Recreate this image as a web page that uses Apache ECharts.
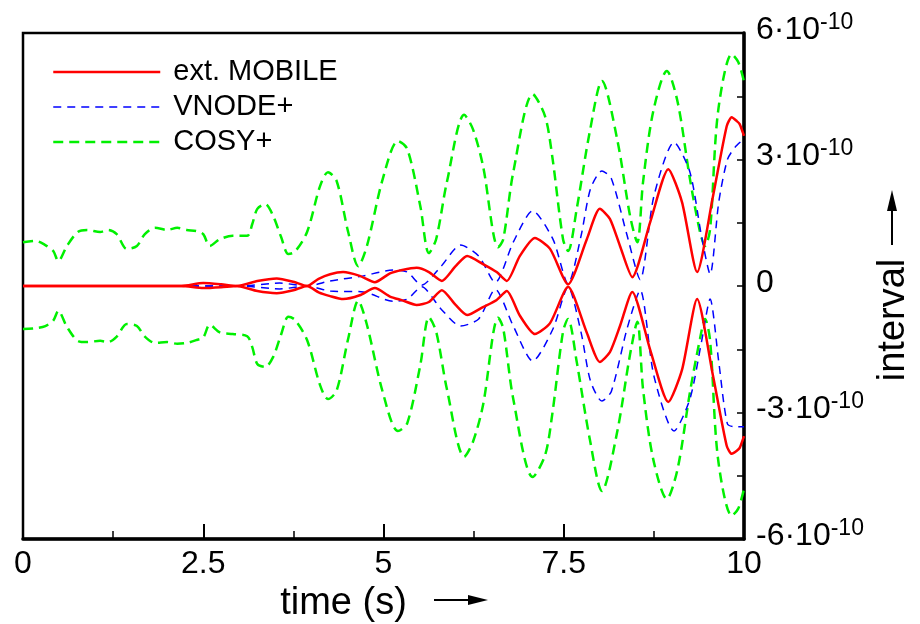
<!DOCTYPE html>
<html>
<head>
<meta charset="utf-8">
<script src="https://cdn.jsdelivr.net/npm/echarts@6/dist/echarts.min.js"></script>
<style>
html,body{margin:0;padding:0;background:#fff;}
#chart{width:920px;height:624px;}
</style>
</head>
<body>
<div id="chart"></div>
<script>
// ---- data (values in units of 1e-10) ----
const seriesNames = ['ext. MOBILE', 'VNODE+', 'COSY+'];
const xTickLabels = ['0', '2.5', '5', '7.5', '10'];
const yTickLabels = {'6': ['6·10', '-10'], '3': ['3·10', '-10'], '0': ['0', ''], '-3': ['-3·10', '-10'], '-6': ['-6·10', '-10']};

const mobileTime  = [0, 2.2, 2.5, 2.75, 2.97, 3.25, 3.52, 3.75, 3.94, 4.1, 4.26, 4.44, 4.67, 4.88, 5.09, 5.26, 5.46, 5.63, 5.81, 6.0, 6.16, 6.38, 6.57, 6.71, 6.89, 7.10, 7.31, 7.56, 7.82, 8.0, 8.14, 8.28, 8.45, 8.70, 8.95, 9.14, 9.35, 9.57, 9.76, 9.83, 9.90, 9.94, 10.0];
const mobileUpper = [0, 0, 0.07, 0.04, 0, 0.12, 0.18, 0.1, 0, 0.17, 0.28, 0.33, 0.24, 0.09, 0.30, 0.38, 0.43, 0.33, 0.12, 0.47, 0.71, 0.52, 0.33, 0.12, 0.71, 1.14, 0.88, 0.04, 1.11, 1.83, 1.59, 0.95, 0.21, 1.52, 2.77, 1.99, 0.33, 2.13, 3.79, 4.0, 3.91, 3.84, 3.56];
const mobileLower = [0, 0, -0.05, -0.03, 0, -0.12, -0.17, -0.1, 0, -0.15, -0.24, -0.31, -0.22, -0.05, -0.25, -0.34, -0.45, -0.38, -0.10, -0.45, -0.69, -0.50, -0.33, -0.12, -0.70, -1.14, -0.88, -0.02, -1.11, -1.80, -1.57, -0.95, -0.14, -1.52, -2.75, -1.99, -0.31, -2.13, -3.79, -3.98, -3.91, -3.84, -3.56];

const vnodeTime  = [0, 3.0, 3.56, 3.94, 4.26, 4.72, 5.13, 5.33, 5.53, 5.80, 6.07, 6.32, 6.55, 6.80, 7.07, 7.35, 7.56, 7.74, 7.87, 8.03, 8.16, 8.38, 8.56, 8.75, 9.03, 9.25, 9.41, 9.53, 9.65, 9.77, 9.88, 10.0];
const vnodeUpper = [0, 0, 0.07, 0, 0.12, 0.24, 0.38, 0.33, 0.02, 0.47, 0.97, 0.71, 0.08, 1.04, 1.78, 1.11, 0.05, 1.19, 2.3, 2.73, 2.55, 1.19, 0.15, 2.13, 3.41, 2.70, 1.19, 0.28, 1.99, 3.0, 3.3, 3.49];
const vnodeLower = [0, 0, -0.07, 0, -0.12, -0.14, -0.36, -0.31, -0.02, -0.55, -0.95, -0.78, -0.08, -0.95, -1.78, -1.02, -0.02, -1.1, -2.25, -2.73, -2.5, -1.0, -0.1, -2.13, -3.44, -2.68, -1.33, -0.31, -1.8, -3.27, -3.34, -3.34];

const cosyTime  = [0, 0.17, 0.31, 0.42, 0.49, 0.61, 0.76, 0.89, 1.07, 1.18, 1.30, 1.44, 1.58, 1.69, 1.83, 2.0, 2.14, 2.27, 2.41, 2.50, 2.59, 2.73, 2.91, 3.11, 3.18, 3.25, 3.36, 3.47, 3.58, 3.68, 3.77, 3.94, 4.12, 4.23, 4.35, 4.51, 4.65, 4.77, 4.99, 5.20, 5.33, 5.51, 5.63, 5.73, 5.88, 6.12, 6.24, 6.38, 6.59, 6.66, 6.80, 7.07, 7.24, 7.34, 7.49, 7.56, 7.68, 7.86, 8.03, 8.24, 8.42, 8.52, 8.60, 8.74, 8.93, 9.08, 9.25, 9.39, 9.46, 9.53, 9.64, 9.83, 9.92, 10.0];
const cosyUpper = [1.04, 1.07, 0.97, 0.83, 0.59, 0.95, 1.28, 1.33, 1.28, 1.33, 1.23, 0.88, 0.95, 1.23, 1.38, 1.33, 1.38, 1.33, 1.30, 1.23, 0.95, 1.11, 1.19, 1.19, 1.47, 1.83, 1.94, 1.66, 1.16, 0.76, 0.81, 1.28, 2.37, 2.70, 2.49, 1.28, 0.47, 0.95, 2.54, 3.44, 3.25, 1.90, 0.78, 1.11, 2.47, 4.06, 3.72, 2.85, 0.92, 1.10, 2.70, 4.55, 4.03, 3.08, 1.11, 0.83, 1.83, 3.65, 4.86, 3.49, 1.66, 1.04, 2.47, 4.13, 5.10, 4.36, 2.54, 1.28, 0.95, 1.35, 4.13, 5.50, 5.31, 4.85];
const cosyLower = [-1.02, -1.0, -0.95, -0.82, -0.59, -0.97, -1.30, -1.33, -1.30, -1.33, -1.20, -0.90, -0.95, -1.20, -1.35, -1.33, -1.37, -1.35, -1.28, -1.22, -0.92, -1.10, -1.14, -1.19, -1.45, -1.85, -1.92, -1.68, -1.15, -0.73, -0.80, -1.28, -2.35, -2.68, -2.48, -1.25, -0.35, -0.92, -2.52, -3.44, -3.25, -1.88, -0.74, -1.08, -2.45, -4.05, -3.70, -2.83, -0.75, -1.0, -2.68, -4.53, -4.02, -3.05, -1.08, -0.78, -1.80, -3.62, -4.86, -3.47, -1.62, -0.85, -2.45, -4.10, -5.05, -4.33, -2.52, -1.25, -0.78, -1.30, -4.10, -5.45, -5.28, -4.81];

// ---- chart ----
const FONT = "'Liberation Sans', Arial, Helvetica, sans-serif";
const chart = echarts.init(document.getElementById('chart'), null, {renderer: 'canvas'});

function mk(name, t, v, color, width, dash, z, smooth) {
  return {
    name: name, type: 'line', data: t.map((x, i) => [x, v[i]]),
    symbol: 'none', smooth: smooth, z: z,
    lineStyle: {color: color, width: width, type: dash},
    itemStyle: {color: color},
    emphasis: {disabled: true}
  };
}

const series = [
  mk(seriesNames[2], cosyTime, cosyUpper, '#00f000', 2.5, [10, 6], 2, 0.3),
  mk(seriesNames[2], cosyTime, cosyLower, '#00f000', 2.5, [10, 6], 2, 0.3),
  mk(seriesNames[1], vnodeTime, vnodeUpper, '#0000ff', 1.5, [8, 6], 3, 0.25),
  mk(seriesNames[1], vnodeTime, vnodeLower, '#0000ff', 1.5, [8, 6], 3, 0.25),
  mk(seriesNames[0], mobileTime, mobileUpper, '#ff0000', 2.5, 'solid', 4, 0.22),
  mk(seriesNames[0], mobileTime, mobileLower, '#ff0000', 2.5, 'solid', 4, 0.22)
];

const option = {
  animation: false,
  backgroundColor: '#ffffff',
  grid: {left: 23, right: 176, top: 33, bottom: 85, containLabel: false, outerBoundsMode: 'none',
         show: true, borderColor: '#000', borderWidth: 2.5, backgroundColor: 'transparent'},
  legend: {
    data: seriesNames,
    orient: 'vertical', left: 47, top: 52,
    itemWidth: 107, itemHeight: 14, itemGap: 5,
    selectedMode: false,
    itemStyle: {opacity: 0},
    lineStyle: {width: 'inherit', type: 'inherit'},
    textStyle: {fontFamily: FONT, fontSize: 29, color: '#000', lineHeight: 30, padding: [0, 0, 0, 8]}
  },
  xAxis: {
    type: 'value', min: 0, max: 10, interval: 2.5,
    name: 'time (s)', nameLocation: 'middle', nameGap: 39,
    nameTextStyle: {fontFamily: FONT, fontSize: 38, color: '#000', padding: [0, 80, 0, 0]},
    axisLine: {show: true, onZero: false, lineStyle: {color: '#000', width: 3.5}},
    axisTick: {show: true, inside: true, length: 15, lineStyle: {color: '#000', width: 2}},
    minorTick: {show: true, splitNumber: 2, length: 8, lineStyle: {color: '#000', width: 1.5}},
    splitLine: {show: false},
    axisLabel: {
      margin: 9, fontFamily: FONT, fontSize: 32, color: '#000',
      formatter: function (v) { const i = Math.round(v / 2.5); return xTickLabels[i] !== undefined ? xTickLabels[i] : ''; }
    }
  },
  yAxis: {
    type: 'value', position: 'right', min: -6, max: 6, interval: 1.5,
    name: 'interval', nameLocation: 'middle', nameGap: 128, nameRotate: 90,
    nameTextStyle: {fontFamily: FONT, fontSize: 38, color: '#000', padding: [0, 68, 0, 0]},
    axisLine: {show: true, onZero: false, lineStyle: {color: '#000', width: 3.5}},
    axisTick: {show: true, inside: true, length: 7, lineStyle: {color: '#000', width: 1.5}},
    splitLine: {show: false},
    axisLabel: {
      margin: 12, showMinLabel: true, showMaxLabel: true, padding: [0, 0, 8, 0],
      formatter: function (v) {
        const key = String(Math.round(v * 10) / 10);
        const lab = yTickLabels[key];
        if (!lab) return '';
        return lab[1] ? '{b|' + lab[0] + '}{s|' + lab[1] + '}' : '{b|' + lab[0] + '}';
      },
      rich: {
        b: {fontFamily: FONT, fontSize: 32, color: '#000', lineHeight: 36, padding: [3, 0, 17, 0], verticalAlign: 'top'},
        s: {fontFamily: FONT, fontSize: 23, color: '#000', lineHeight: 20, verticalAlign: 'top'}
      }
    }
  },
  graphic: [
    {type: 'line', shape: {x1: 434, y1: 600, x2: 472, y2: 600}, style: {stroke: '#000', lineWidth: 2}},
    {type: 'polygon', shape: {points: [[488, 600], [468, 595], [468, 605]]}, style: {fill: '#000'}},
    {type: 'line', shape: {x1: 892, y1: 245, x2: 892, y2: 208}, style: {stroke: '#000', lineWidth: 2}},
    {type: 'polygon', shape: {points: [[892, 190], [887, 211], [897, 211]]}, style: {fill: '#000'}}
  ],
  series: series
};
chart.setOption(option);
</script>
</body>
</html>
